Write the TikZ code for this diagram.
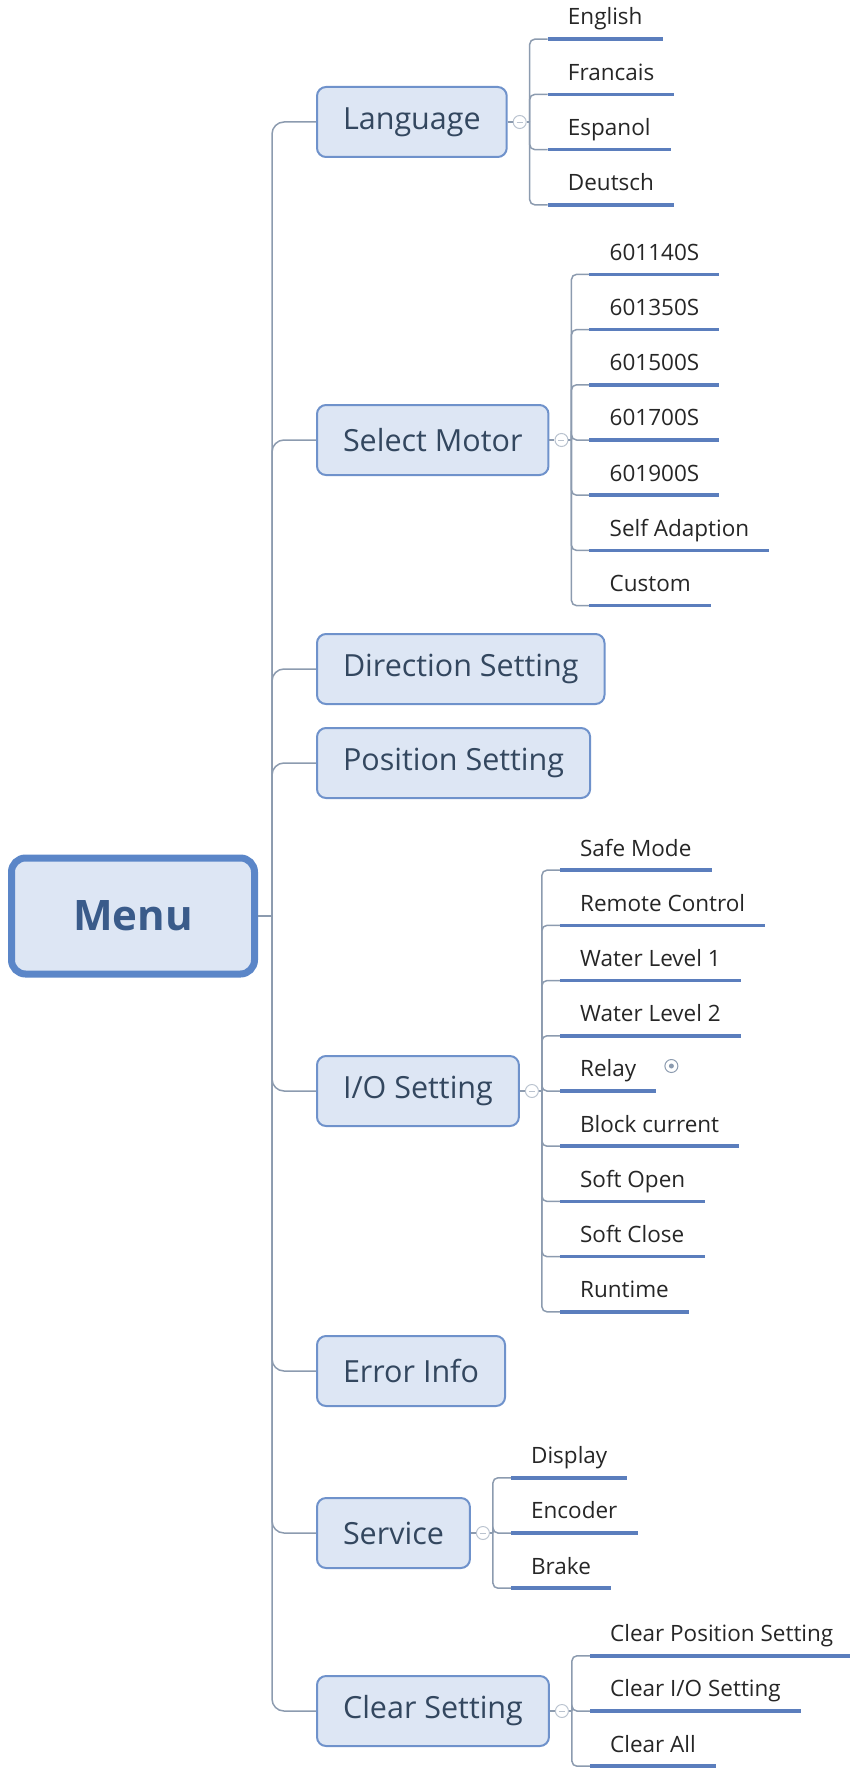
\documentclass[tikz,border=0pt]{standalone}
\usepackage{fontspec}
\setmainfont{Open Sans}
\usetikzlibrary{positioning}
\definecolor{boxfill}{HTML}{DDE6F4}
\definecolor{boxline}{HTML}{6F92CB}
\definecolor{menuline}{HTML}{5B86C8}
\definecolor{menutext}{HTML}{3A5B8A}
\definecolor{boxtext}{HTML}{33475F}
\definecolor{wirecol}{HTML}{8C9BAF}
\definecolor{ulinecol}{HTML}{5B7EBD}
\tikzset{
  root/.style={draw=menuline,line width=7pt,fill=boxfill,rounded corners=14pt,
    minimum width=243pt,minimum height=116pt,text=menutext,
    font=\fontsize{42}{50}\selectfont\bfseries},
  topic/.style={draw=boxline,line width=2pt,fill=boxfill,rounded corners=9pt,
    anchor=west,minimum height=70pt,inner xsep=26pt,text=boxtext,
    font=\fontsize{30.5}{36}\selectfont},
  item/.style={anchor=south west,inner xsep=20pt,inner ysep=9pt,
    text height=16pt,text depth=5pt,text=black!85,
    font=\fontsize{22.5}{27}\selectfont},
  wire/.style={draw=wirecol,line width=1.5pt},
  uline/.style={draw=ulinecol,line width=3.5pt},
  knob/.style={circle,draw=wirecol!60,line width=1pt,minimum size=13pt,inner sep=0pt},
}
\begin{document}
\begin{tikzpicture}[x=1pt,y=-1pt]
  \useasboundingbox (0,0) rectangle (850,1768);
  % root and main branches
  \node[root] (menu) at (133,916) {Menu};
  \coordinate (hub) at (272,916);
  \draw[wire] (menu.east) -- (hub);
  \node[topic] (lang)  at (316, 122) {Language};
  \node[topic] (motor) at (316, 440) {Select Motor};
  \node[topic] (dir)   at (316, 669) {Direction Setting};
  \node[topic] (pos)   at (316, 763) {Position Setting};
  \node[topic] (io)    at (316,1091) {I/O Setting};
  \node[topic] (err)   at (316,1371) {Error Info};
  \node[topic] (serv)  at (316,1533) {Service};
  \node[topic] (clr)   at (316,1711) {Clear Setting};
  \foreach \t in {lang,motor,dir,pos,io,err,serv,clr}
    \draw[wire,rounded corners=12pt] (hub) |- (\t.west);
  % sub items
  \foreach \t/\n/\l in {lang/4/{English,Francais,Espanol,Deutsch},
      motor/7/{601140S,601350S,601500S,601700S,601900S,Self Adaption,Custom},
      io/9/{Safe Mode,Remote Control,Water Level 1,Water Level 2,Relay,Block current,Soft Open,Soft Close,Runtime},
      serv/3/{Display,Encoder,Brake},
      clr/3/{Clear Position Setting,Clear I/O Setting,Clear All}}
  {
    \node[knob] (\t-k) at ([xshift=12pt]\t.east) {};
    \draw[draw=wirecol!60,line width=.8pt] ([xshift=-3pt]\t-k.center) -- ([xshift=3pt]\t-k.center);
    \coordinate (\t-s) at ([xshift=22pt]\t.east);
    \draw[wire] (\t.east) -- (\t-k) -- (\t-s);
    \foreach \s [count=\i] in \l {
      \node[item] (\t-\i) at ([shift={(18,{(\i-(\n+1)/2)*55.2})}]\t-s) {\s};
      \draw[wire,rounded corners=5pt] (\t-s) |- (\t-\i.south west);
      \draw[uline] (\t-\i.south west) -- (\t-\i.south east);
    }
  }
  \node[knob,draw=wirecol] (relay-k) at ([shift={(15,-25)}]io-5.south east) {};
  \fill[wirecol] (relay-k) circle (2.5pt);
\end{tikzpicture}
\end{document}
